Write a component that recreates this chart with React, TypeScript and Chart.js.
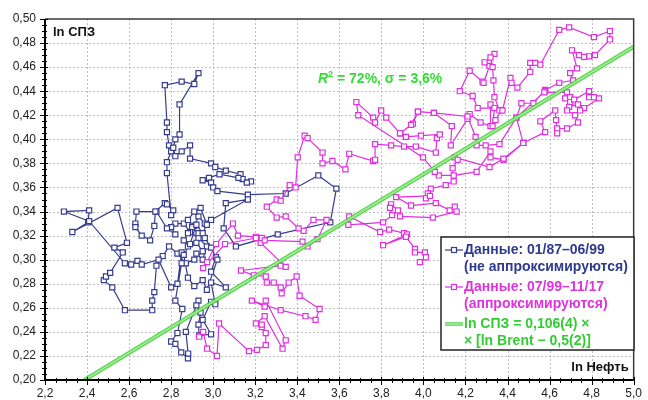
import React, { useEffect, useRef } from 'react';
import { Chart, registerables } from 'chart.js';
Chart.register(...registerables);

// ---- Tick values (axis labels) ----
const xTickValues = [2.2, 2.4, 2.6, 2.8, 3.0, 3.2, 3.4, 3.6, 3.8, 4.0, 4.2, 4.4, 4.6, 4.8, 5.0];
const yTickValues = [0.2, 0.22, 0.24, 0.26, 0.28, 0.3, 0.32, 0.34, 0.36, 0.38, 0.4, 0.42, 0.44, 0.46, 0.48, 0.5];

// ---- Series 1: 01/87–06/99 (ln Oil, ln SDR) ----
const navyPoints: number[][] = [
  [2.92,0.305],[2.95,0.300],[2.97,0.311],[2.93,0.318],[2.89,0.323],[2.86,0.330],[2.82,0.330],[2.80,0.327],
  [2.82,0.321],[2.78,0.326],[2.73,0.340],[2.635,0.340],[2.63,0.330],[2.63,0.327],[2.66,0.320],[2.70,0.316],
  [2.72,0.328],[2.725,0.340],[2.77,0.347],[2.78,0.346],[2.81,0.341],[2.80,0.337],[2.78,0.372],[2.78,0.381],
  [2.80,0.390],[2.79,0.395],[2.78,0.406],[2.78,0.414],[2.77,0.445],[2.85,0.448],[2.91,0.446],[2.93,0.455],
  [2.84,0.429],[2.84,0.404],[2.82,0.400],[2.81,0.393],[2.82,0.386],[2.85,0.390],[2.89,0.395],[2.89,0.384],
  [2.99,0.380],[3.01,0.377],[3.06,0.374],[3.13,0.371],[3.14,0.367],[3.18,0.365],[3.16,0.364],[3.12,0.368],
  [3.03,0.371],[2.98,0.368],[2.95,0.366],[2.99,0.364],[3.00,0.360],[3.02,0.357],[3.165,0.354],[3.345,0.355],
  [3.50,0.370],[3.586,0.359],[3.557,0.331],[3.307,0.321],[3.108,0.311],[3.05,0.326],[3.06,0.347],[3.165,0.350],
  [2.99,0.333],[2.96,0.330],[2.93,0.336],[2.91,0.328],[2.88,0.322],[2.86,0.316],[2.88,0.311],[2.92,0.314],
  [2.95,0.307],[2.91,0.300],[2.87,0.297],[2.83,0.305],[2.79,0.311],[2.76,0.303],[2.73,0.295],[2.72,0.273],
  [2.71,0.266],[2.71,0.258],[2.58,0.258],[2.52,0.277],[2.48,0.283],[2.49,0.286],[2.51,0.289],[2.57,0.306],
  [2.53,0.310],[2.59,0.314],[2.545,0.343],[2.33,0.323],[2.405,0.331],[2.41,0.341],[2.29,0.340],[2.41,0.332],
  [2.58,0.297],[2.61,0.296],[2.64,0.299],[2.66,0.296],[2.74,0.300],[2.80,0.277],[2.83,0.280],[2.85,0.306],
  [2.85,0.297],[2.82,0.266],[2.853,0.259],[2.83,0.239],[2.80,0.232],[2.82,0.230],[2.848,0.223],[2.88,0.218],
  [2.881,0.222],[2.87,0.240],[2.93,0.266],[2.92,0.262],[2.94,0.256],[2.93,0.246],[2.933,0.237],[2.99,0.238],
  [2.95,0.250],[2.99,0.265],[3.01,0.263],[2.99,0.281],[3.06,0.277],[2.99,0.290],[3.013,0.302],[2.99,0.310],
  [2.96,0.318],[2.93,0.322],[2.90,0.327],[2.88,0.333],[2.91,0.340],[2.94,0.343],[2.97,0.329],[2.95,0.322],
  [2.92,0.329],[2.89,0.313],[2.86,0.304],[2.88,0.285],[2.91,0.278],[2.95,0.283],[2.97,0.275],[3.02,0.300],
];

// ---- Series 2: 07/99–11/17 ----
const magentaPoints: number[][] = [
  [2.933,0.236],[2.952,0.240],[2.971,0.226],[3.018,0.220],[3.028,0.247],[3.170,0.224],[3.208,0.225],[3.250,0.229],
  [3.250,0.239],[3.231,0.244],[3.231,0.246],[3.203,0.247],[3.245,0.253],[3.330,0.226],[3.345,0.233],[3.250,0.266],
  [3.245,0.261],[3.184,0.266],[3.321,0.258],[3.439,0.253],[3.487,0.250],[3.506,0.259],[3.411,0.270],[3.397,0.286],
  [3.359,0.281],[3.326,0.272],[3.321,0.277],[3.288,0.281],[3.255,0.281],[3.250,0.286],[3.193,0.287],[3.132,0.291],
  [3.321,0.295],[3.345,0.294],[3.226,0.314],[3.203,0.319],[3.118,0.320],[3.094,0.330],[3.014,0.313],[2.971,0.298],
  [2.952,0.293],[3.056,0.313],[3.203,0.318],[3.231,0.318],[3.245,0.316],[3.425,0.315],[3.449,0.311],[3.496,0.317],
  [3.539,0.333],[3.477,0.333],[3.430,0.324],[3.406,0.326],[3.345,0.336],[3.302,0.335],[3.255,0.344],[3.302,0.350],
  [3.321,0.349],[3.364,0.362],[3.392,0.360],[3.402,0.385],[3.435,0.403],[3.449,0.401],[3.520,0.389],[3.520,0.380],
  [3.567,0.382],[3.629,0.375],[3.647,0.388],[3.761,0.382],[3.770,0.383],[3.770,0.396],[3.846,0.395],[3.908,0.394],
  [3.964,0.394],[4.059,0.389],[4.064,0.401],[4.078,0.404],[3.988,0.403],[3.917,0.402],[3.889,0.405],[3.950,0.413],
  [3.974,0.423],[4.050,0.422],[4.135,0.411],[4.130,0.395],[4.210,0.417],[4.220,0.421],[4.272,0.414],[4.319,0.411],
  [4.319,0.429],[4.371,0.424],[4.343,0.416],[4.329,0.411],[4.338,0.426],[4.258,0.426],[4.234,0.436],[4.173,0.440],
  [4.220,0.457],[4.281,0.448],[4.286,0.447],[4.314,0.461],[4.291,0.464],[4.338,0.471],[4.319,0.468],[4.329,0.460],
  [4.333,0.449],[4.338,0.435],[4.362,0.424],[4.376,0.424],[4.414,0.451],[4.419,0.447],[4.447,0.443],[4.508,0.456],
  [4.508,0.4635],[4.532,0.4635],[4.556,0.462],[4.646,0.491],[4.693,0.493],[4.811,0.485],[4.887,0.490],[4.887,0.483],
  [4.816,0.470],[4.788,0.469],[4.764,0.4685],[4.740,0.470],[4.707,0.474],[4.731,0.459],[4.698,0.455],[4.712,0.449],
  [4.646,0.447],[4.579,0.441],[4.523,0.430],[4.466,0.430],[4.442,0.418],[4.475,0.397],[4.381,0.383],[4.319,0.385],
  [4.319,0.390],[4.253,0.373],[4.144,0.370],[4.073,0.370],[4.054,0.373],[3.998,0.385],[3.690,0.420],[3.681,0.431],
  [3.761,0.418],[3.770,0.414],[3.799,0.424],[3.823,0.418],[3.889,0.405],[3.941,0.412],[3.974,0.423],[4.050,0.422],
  [4.210,0.419],[4.248,0.402],[4.253,0.395],[4.296,0.395],[4.362,0.396],[4.442,0.418],[4.579,0.440],[4.575,0.439],
  [4.683,0.439],[4.674,0.434],[4.698,0.435],[4.698,0.431],[4.717,0.433],[4.788,0.440],[4.788,0.435],[4.811,0.435],
  [4.835,0.434],[4.764,0.426],[4.745,0.424],[4.735,0.429],[4.693,0.427],[4.683,0.424],[4.721,0.420],[4.735,0.414],
  [4.683,0.409],[4.636,0.409],[4.636,0.405],[4.631,0.416],[4.627,0.424],[4.556,0.415],[4.579,0.406],[4.475,0.397],
  [4.381,0.384],[4.314,0.377],[4.149,0.385],[4.163,0.383],[4.139,0.376],[4.144,0.365],[4.106,0.362],[4.035,0.359],
  [4.021,0.355],[4.012,0.351],[4.031,0.353],[3.870,0.352],[3.941,0.345],[4.059,0.347],[4.125,0.341],[4.149,0.344],
  [4.158,0.340],[4.045,0.335],[3.889,0.336],[3.879,0.341],[3.846,0.346],[3.841,0.343],[3.851,0.337],[3.808,0.331],
  [3.643,0.329],[3.647,0.336],[3.794,0.323],[3.837,0.325],[3.908,0.322],[3.922,0.321],[3.808,0.312],[3.917,0.319],
  [3.960,0.309],[3.960,0.306],[4.007,0.306],[4.012,0.302],[3.983,0.298],
];

// ---- Regression line endpoints: ln СПЗ = 0,106·(ln Brent − 0,5) ----
const fitPoints: number[][] = [[2.387, 0.2], [5.0, 0.477]];

const NAVY = '#363c8e';
const MAGENTA = '#e030e0';
const FONT = "'Liberation Sans', Arial, sans-serif";

const toXY = (arr: number[][]) => arr.map(([x, y]) => ({ x, y }));

const framePlugin = {
  id: 'frame',
  beforeDatasetsDraw(chart: any) {
    const { ctx, chartArea: a, scales } = chart;
    const xs = scales.x, ys = scales.y;
    ctx.save();
    ctx.strokeStyle = '#bfbfbf';
    ctx.lineWidth = 1;
    ctx.setLineDash([2, 2]);
    xTickValues.forEach((v) => {
      const px = Math.round(xs.getPixelForValue(v)) + 0.5;
      if (px <= a.left + 1 || px >= a.right - 1) return;
      ctx.beginPath(); ctx.moveTo(px, a.top); ctx.lineTo(px, a.bottom); ctx.stroke();
    });
    yTickValues.forEach((v) => {
      const py = Math.round(ys.getPixelForValue(v)) + 0.5;
      if (py <= a.top + 1 || py >= a.bottom - 1) return;
      ctx.beginPath(); ctx.moveTo(a.left, py); ctx.lineTo(a.right, py); ctx.stroke();
    });
    ctx.restore();
  },
  afterDatasetsDraw(chart: any) {
    const { ctx, chartArea: a, scales } = chart;
    const xs = scales.x, ys = scales.y;
    ctx.save();
    ctx.strokeStyle = '#3a3a3a';
    ctx.lineWidth = 1.5;
    ctx.beginPath();
    ctx.moveTo(a.left, a.top); ctx.lineTo(a.right, a.top); ctx.lineTo(a.right, a.bottom);
    ctx.stroke();
    ctx.strokeStyle = '#000';
    ctx.lineWidth = 2;
    ctx.beginPath();
    ctx.moveTo(a.left, a.top); ctx.lineTo(a.left, a.bottom); ctx.lineTo(a.right, a.bottom);
    ctx.stroke();
    ctx.lineWidth = 1;
    const xMin = xTickValues[0], xMax = xTickValues[xTickValues.length - 1];
    const yMin = yTickValues[0], yMax = yTickValues[yTickValues.length - 1];
    const nx = Math.round((xMax - xMin) / 0.05);
    for (let i = 0; i <= nx; i++) {
      const v = xMin + i * 0.05;
      const px = Math.round(xs.getPixelForValue(v)) + 0.5;
      const major = i % 4 === 0;
      ctx.beginPath();
      ctx.moveTo(px, a.bottom - (major ? 3 : 2));
      ctx.lineTo(px, a.bottom + (major ? 5 : 3));
      ctx.stroke();
    }
    const ny = Math.round((yMax - yMin) / 0.005);
    for (let i = 0; i <= ny; i++) {
      const v = yMin + i * 0.005;
      const py = Math.round(ys.getPixelForValue(v)) + 0.5;
      const major = i % 4 === 0;
      ctx.beginPath();
      ctx.moveTo(a.left - (major ? 5 : 3), py);
      ctx.lineTo(a.left + (major ? 3 : 2), py);
      ctx.stroke();
    }
    ctx.restore();
  },
  afterDraw(chart: any) {
    const { ctx, chartArea: a } = chart;
    ctx.save();
    ctx.textBaseline = 'middle';
    ctx.fillStyle = '#111';
    ctx.font = `bold 13px ${FONT}`;
    ctx.textAlign = 'left';
    ctx.fillText('ln СПЗ', a.left + 8, a.top + 13);
    ctx.textAlign = 'right';
    ctx.fillText('ln Нефть', a.right - 5, a.bottom - 13);

    ctx.textAlign = 'left';
    ctx.fillStyle = '#33dd33';
    let tx = 318;
    const ty = 79;
    ctx.font = `italic bold 14px ${FONT}`;
    ctx.fillText('R', tx, ty);
    tx += ctx.measureText('R').width;
    ctx.font = `bold 9px ${FONT}`;
    ctx.fillText('2', tx, ty - 4);
    tx += ctx.measureText('2').width;
    ctx.font = `bold 14px ${FONT}`;
    ctx.fillText(' = 72%, σ = 3,6%', tx, ty);

    const bx = 441, by = 237, bw = 193, bh = 113;
    ctx.fillStyle = '#fff';
    ctx.fillRect(bx, by, bw, bh);
    ctx.strokeStyle = '#222';
    ctx.lineWidth = 1.5;
    ctx.strokeRect(bx, by, bw, bh);

    const textX = 464;
    const drawSample = (y: number, color: string) => {
      ctx.strokeStyle = color;
      ctx.lineWidth = 1.2;
      ctx.beginPath(); ctx.moveTo(445, y); ctx.lineTo(463, y); ctx.stroke();
      ctx.fillStyle = '#fff';
      ctx.fillRect(451.5, y - 2.5, 5, 5);
      ctx.strokeRect(451.5, y - 2.5, 5, 5);
    };
    drawSample(250, NAVY);
    drawSample(287, MAGENTA);
    ctx.strokeStyle = '#55cc55';
    ctx.lineWidth = 3.5;
    ctx.beginPath(); ctx.moveTo(445, 324); ctx.lineTo(463, 324); ctx.stroke();
    ctx.strokeStyle = '#9ef590';
    ctx.lineWidth = 1.5;
    ctx.beginPath(); ctx.moveTo(445, 324); ctx.lineTo(463, 324); ctx.stroke();

    ctx.font = `bold 14px ${FONT}`;
    ctx.textAlign = 'left';
    ctx.fillStyle = '#2f3a8c';
    ctx.fillText('Данные: 01/87–06/99', textX, 250);
    ctx.fillText('(не аппроксимируются)', textX, 267);
    ctx.fillStyle = '#dd33dd';
    ctx.fillText('Данные: 07/99–11/17', textX, 287);
    ctx.fillText('(аппроксимируются)', textX, 304);
    ctx.fillStyle = '#33cc33';
    ctx.fillText('ln СПЗ = 0,106(4) ×', textX, 324);
    ctx.fillText('× [ln Brent − 0,5(2)]', textX, 341);
    ctx.restore();
  },
};

export default function App() {
  const canvasRef = useRef<HTMLCanvasElement | null>(null);

  useEffect(() => {
    document.body.style.margin = '0';
    const canvas = canvasRef.current;
    if (!canvas) return;
    const chart = new Chart(canvas, {
      type: 'scatter',
      data: {
        datasets: [
          {
            label: 'fit-inner',
            data: toXY(fitPoints),
            showLine: true,
            borderColor: 'rgba(160,245,145,0.9)',
            borderWidth: 1.6,
            pointRadius: 0,
            order: 0,
          },
          {
            label: 'fit',
            data: toXY(fitPoints),
            showLine: true,
            borderColor: 'rgba(70,200,60,0.85)',
            borderWidth: 4.2,
            pointRadius: 0,
            order: 1,
          },
          {
            label: 'Данные: 07/99–11/17',
            data: toXY(magentaPoints),
            showLine: true,
            borderColor: MAGENTA,
            borderWidth: 1.2,
            pointStyle: 'rect',
            pointRadius: 3.6,
            pointBorderWidth: 1.2,
            pointBackgroundColor: '#fff',
            pointBorderColor: MAGENTA,
            order: 2,
          },
          {
            label: 'Данные: 01/87–06/99',
            data: toXY(navyPoints),
            showLine: true,
            borderColor: NAVY,
            borderWidth: 1.2,
            pointStyle: 'rect',
            pointRadius: 3.6,
            pointBorderWidth: 1.2,
            pointBackgroundColor: '#fff',
            pointBorderColor: NAVY,
            order: 3,
          },
        ],
      },
      options: {
        animation: false,
        responsive: true,
        maintainAspectRatio: false,
        layout: { padding: { top: 19, right: 11, left: 0, bottom: 0 } },
        plugins: { legend: { display: false }, tooltip: { enabled: false } },
        elements: { line: { tension: 0 } },
        scales: {
          x: {
            type: 'linear',
            min: xTickValues[0],
            max: xTickValues[xTickValues.length - 1],
            grid: { display: false, drawTicks: false, tickLength: 0 },
            border: { display: false },
            afterFit: (s: any) => { s.height = 20; },
            ticks: {
              stepSize: 0.2,
              padding: 6,
              color: '#222',
              font: { family: FONT, size: 12 },
              callback: (v: any) => Number(v).toFixed(1).replace('.', ','),
            },
          },
          y: {
            type: 'linear',
            min: yTickValues[0],
            max: yTickValues[yTickValues.length - 1],
            grid: { display: false, drawTicks: false, tickLength: 0 },
            border: { display: false },
            afterFit: (s: any) => { s.width = 45; },
            ticks: {
              stepSize: 0.02,
              padding: 9,
              color: '#222',
              font: { family: FONT, size: 12 },
              callback: (v: any) => Number(v).toFixed(2).replace('.', ','),
            },
          },
        },
      },
      plugins: [framePlugin],
    } as any);
    return () => chart.destroy();
  }, []);

  return (
    <div style={{ position: 'fixed', left: 0, top: 0, width: 648, height: 400, background: '#fff' }}>
      <canvas ref={canvasRef} />
    </div>
  );
}
